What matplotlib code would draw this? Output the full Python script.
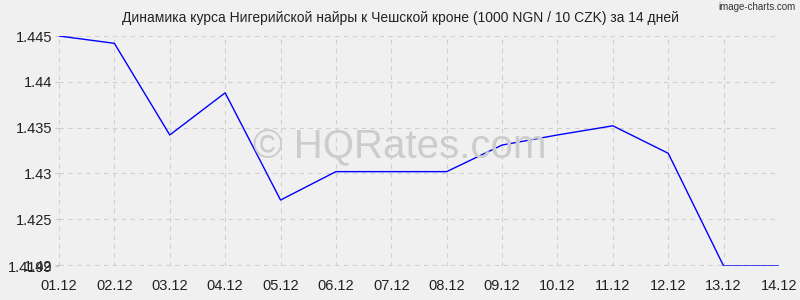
#!/usr/bin/env python3
import matplotlib
matplotlib.use('Agg')
import matplotlib.pyplot as plt

dates = ['01.12', '02.12', '03.12', '04.12', '05.12', '06.12', '07.12',
         '08.12', '09.12', '10.12', '11.12', '12.12', '13.12', '14.12']
rates = [1.4450, 1.4442, 1.4342, 1.4388, 1.4271, 1.4302, 1.4302,
         1.4302, 1.4331, 1.4342, 1.4352, 1.4322, 1.4199, 1.4199]
ytick_vals = [1.4199, 1.42, 1.425, 1.43, 1.435, 1.44, 1.445]
ytick_labels = ['1.4199', '1.42', '1.425', '1.43', '1.435', '1.44', '1.445']

BG = '#f0f0f0'
plt.rcParams['font.family'] = ['Liberation Sans', 'DejaVu Sans']

fig = plt.figure(figsize=(8, 3), dpi=100, facecolor=BG)
ax = fig.add_axes([0.07375, 0.1133, 0.9, 0.7667], facecolor=BG)

x = list(range(len(dates)))
ax.plot(x, rates, color='#0000ff', lw=1)

ax.set_xlim(0, len(dates) - 1)
ax.set_ylim(min(rates), max(rates))
ax.set_xticks(x)
ax.set_xticklabels(dates)
ax.set_yticks(ytick_vals)
ax.set_yticklabels(ytick_labels)
ax.tick_params(axis='x', labelsize=10.5, colors='#222222', length=0, pad=9)
ax.tick_params(axis='y', labelsize=10.5, labelcolor='#222222', length=3,
               color='#cccccc', pad=2)

ax.grid(True, color='#cfcfcf', linestyle=(0, (4, 4)), lw=0.8)
ax.set_axisbelow(True)
for s in ax.spines.values():
    s.set_visible(False)

fig.text(0.5, 0.94, 'Динамика курса Нигерийской найры к Чешской кроне (1000 NGN / 10 CZK) за 14 дней',
         ha='center', va='center', fontsize=10, color='#222222')
fig.text(0.995, 0.975, 'image-charts.com', ha='right', va='center',
         fontsize=7, color='#333333')
fig.text(0.5, 0.51, '© HQRates.com', ha='center', va='center',
         fontsize=29, color='#cccccc', zorder=0)

fig.savefig('out.png', dpi=100, facecolor=BG)
